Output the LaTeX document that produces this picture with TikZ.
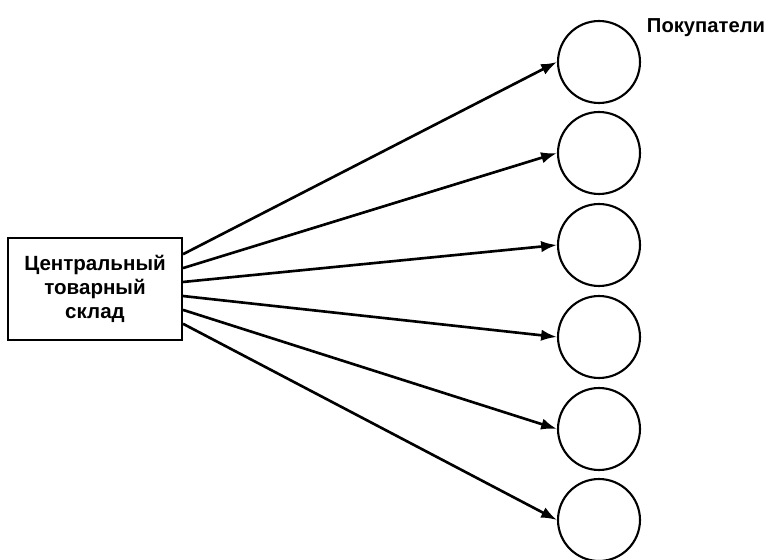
\documentclass[tikz,border=0pt]{standalone}
\usepackage{fontspec}
\setmainfont{Liberation Sans}
\usetikzlibrary{arrows.meta}
\begin{document}
\begin{tikzpicture}[x=0.02cm,y=-0.02cm,
store/.style={draw, line width=1.2pt, align=center, minimum width=3.48cm, minimum height=2.04cm, font=\fontsize{11.7}{13.6}\selectfont\bfseries},
buyer/.style={draw, circle, line width=1.2pt, minimum size=1.64cm, inner sep=0pt},
arrow/.style={-{Latex[length=9pt,width=6.5pt]}, line width=1.5pt}
]
\useasboundingbox (0,0) rectangle (768,560);
\node[store] (depot) at (95,289) {Центральный\\товарный\\склад};
\node[buyer] (b1) at (599,62) {};
\node[buyer] (b2) at (599,153) {};
\node[buyer] (b3) at (599,245) {};
\node[buyer] (b4) at (599,337) {};
\node[buyer] (b5) at (599,429) {};
\node[buyer] (b6) at (599,520) {};
\node[font=\fontsize{11.5}{13.6}\selectfont\bfseries] (buyers) at (706,28) {Покупатели};
\draw[arrow] ([yshift=19.8pt]depot.east) -- (b1.west);
\draw[arrow] ([yshift=11.9pt]depot.east) -- (b2.west);
\draw[arrow] ([yshift=4pt]depot.east) -- (b3.west);
\draw[arrow] ([yshift=-4pt]depot.east) -- (b4.west);
\draw[arrow] ([yshift=-11.9pt]depot.east) -- (b5.west);
\draw[arrow] ([yshift=-19.8pt]depot.east) -- (b6.west);
\end{tikzpicture}
\end{document}
